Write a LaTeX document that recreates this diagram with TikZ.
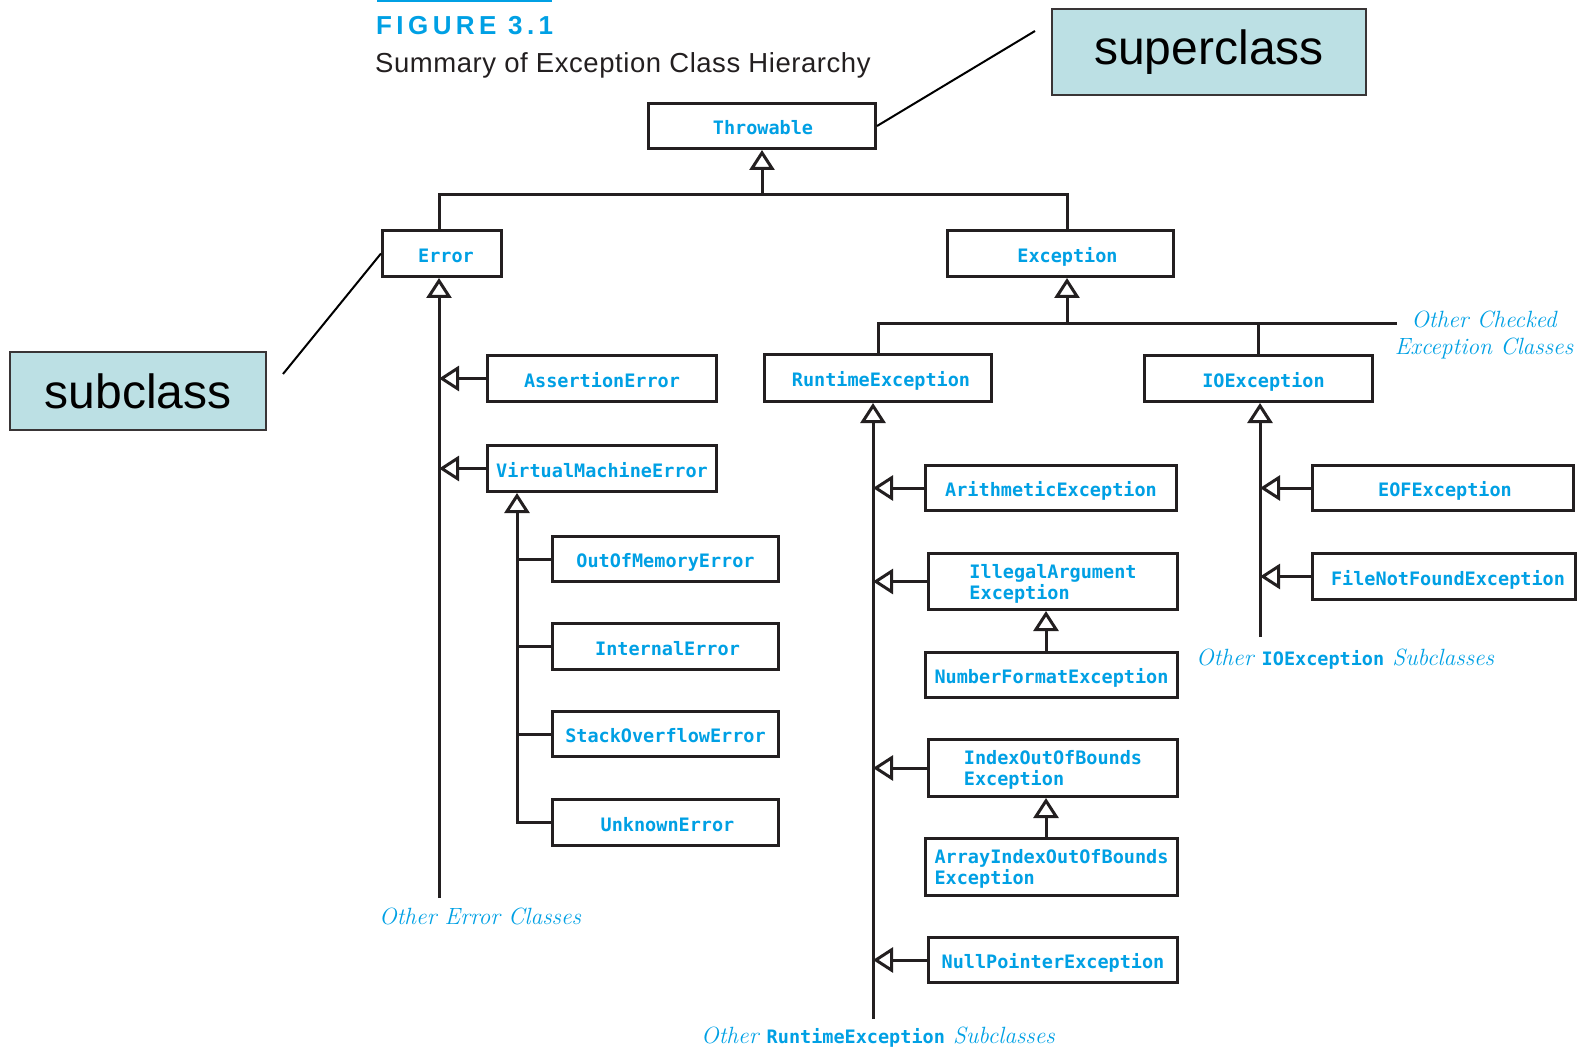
\documentclass[tikz,border=0pt]{standalone}
\usepackage{fontspec}
\newfontfamily\sansfont{Liberation Sans}
\newfontfamily\titlefont{Liberation Sans}[LetterSpace=2]
\newfontfamily\figfont{Liberation Sans}[LetterSpace=17]
\newfontfamily\monofont{DejaVu Sans Mono}
\usetikzlibrary{arrows.meta}

\definecolor{jblue}{RGB}{0,160,228}
\definecolor{ink}{RGB}{35,31,32}
\definecolor{tealbox}{RGB}{188,224,228}

\begin{document}
\begin{tikzpicture}[x=1pt,y=-1pt,
  cls/.style={draw=ink, line width=3pt, fill=white, text=jblue,
    font=\monofont\bfseries\fontsize{18.5}{21}\selectfont,
    inner sep=0pt, minimum height=45pt, align=left,
    text height=17.5pt, text depth=0pt},
  twoline/.style={text height=35pt, text depth=0pt},
  wire/.style={draw=ink, line width=3pt},
  inh/.style={wire, -{Triangle[open,length=20pt,width=25pt]}},
  note/.style={text=jblue, inner sep=0pt, font=\itshape\fontsize{23.5}{27}\selectfont},
  callout/.style={draw=ink!90, line width=2pt, fill=tealbox, text=black,
    font=\sansfont\fontsize{48}{52}\selectfont, inner sep=0pt},
  leader/.style={draw=black, line width=2pt}]

\useasboundingbox (0,0) rectangle (1578,1048);

% heading
\fill[jblue] (377,0) rectangle (552,2.5);
\node[anchor=west, inner sep=0pt, text=jblue, font=\figfont\bfseries\fontsize{26}{30}\selectfont] (fig) at (376,26) {FIGURE 3.1};
\node[anchor=west, inner sep=0pt, text=ink, font=\titlefont\fontsize{27.5}{30}\selectfont] (title) at (375,65) {Summary of Exception Class Hierarchy};

% class boxes
\node[cls, minimum width=227pt] (throwable) at (762,126) {\hspace*{2pt}Throwable};
\node[cls, minimum width=119pt, minimum height=46pt] (error) at (442,253.5) {\hspace*{8pt}Error};
\node[cls, minimum width=226pt, minimum height=46pt] (exception) at (1060.5,253.5) {\hspace*{14pt}Exception};

\node[cls, minimum width=229pt, minimum height=46pt] (assertion) at (602,378.5) {AssertionError};
\node[cls, minimum width=229pt, minimum height=46pt] (vmerror) at (602,468.5) {VirtualMachineError};
\node[cls, minimum width=226pt] (oom) at (665.5,559) {OutOfMemoryError};
\node[cls, minimum width=226pt, minimum height=46pt] (internal) at (665.5,646.5) {\hspace*{4pt}InternalError};
\node[cls, minimum width=226pt] (stackov) at (665.5,734) {StackOverflowError};
\node[cls, minimum width=226pt, minimum height=46pt] (unknown) at (665.5,822.5) {\hspace*{4pt}UnknownError};

\node[cls, minimum width=227pt, minimum height=47pt] (runtime) at (878,378) {\hspace*{6pt}RuntimeException};
\node[cls, minimum width=228pt, minimum height=46pt] (ioexc) at (1258.5,378.5) {\hspace*{10pt}IOException};

\node[cls, minimum width=251pt] (arith) at (1051,488) {ArithmeticException};
\node[cls, twoline, minimum width=249pt, minimum height=56pt] (illegal) at (1053,581.5) {IllegalArgument\\Exception};
\node[cls, minimum width=252pt] (numfmt) at (1051.5,675) {NumberFormatException};
\node[cls, twoline, minimum width=249pt, minimum height=57pt] (indexoob) at (1053,768) {IndexOutOfBounds\\Exception};
\node[cls, twoline, minimum width=252pt, minimum height=57pt] (arrayoob) at (1051.5,867) {ArrayIndexOutOfBounds\\Exception};
\node[cls, minimum width=249pt] (nullptr) at (1053,960) {NullPointerException};

\node[cls, minimum width=261pt] (eof) at (1443,488) {\hspace*{4pt}EOFException};
\node[cls, minimum width=263pt, minimum height=46pt] (fnf) at (1444,576.5) {\hspace*{8pt}FileNotFoundException};

% spine ends and junctions
\coordinate (topbar) at (762,195);
\coordinate (errX) at (439,898);
\coordinate (vmX) at (517,823);
\coordinate (excX) at (1067,323);
\coordinate (chk) at (1397,323);
\coordinate (rtX) at (873,1019);
\coordinate (ioX) at (1260,637);
\coordinate (subX) at (1046,0);

% Throwable level
\draw[inh] (topbar) -- (throwable.south);
\draw[wire] (errX |- error.north) |- (topbar) -| (excX |- exception.north);

% Error branch
\draw[inh] (errX) -- (errX |- error.south);
\draw[inh] (assertion.west) -- (assertion.west -| errX);
\draw[inh] (vmerror.west) -- (vmerror.west -| errX);
\draw[inh, line join=miter] (unknown.west) -| (vmX |- vmerror.south);
\draw[wire] (oom.west) -- (oom.west -| vmX);
\draw[wire] (internal.west) -- (internal.west -| vmX);
\draw[wire] (stackov.west) -- (stackov.west -| vmX);

% Exception branch
\draw[inh] (excX) -- (excX |- exception.south);
\draw[wire, line join=miter] (runtime.north) |- (chk);
\draw[wire] (ioexc.north) -- (ioexc.north |- chk);

% RuntimeException branch
\draw[inh] (rtX) -- (rtX |- runtime.south);
\draw[inh] (arith.west) -- (arith.west -| rtX);
\draw[inh] (illegal.west) -- (illegal.west -| rtX);
\draw[inh] (indexoob.west) -- (indexoob.west -| rtX);
\draw[inh] (nullptr.west) -- (nullptr.west -| rtX);
\draw[inh] (numfmt.north -| subX) -- (illegal.south -| subX);
\draw[inh] (arrayoob.north -| subX) -- (indexoob.south -| subX);

% IOException branch
\draw[inh] (ioX) -- (ioX |- ioexc.south);
\draw[inh] (eof.west) -- (eof.west -| ioX);
\draw[inh] (fnf.west) -- (fnf.west -| ioX);

% open-ended notes
\node[note, anchor=west] (othErr) at (379,916) {Other Error Classes};
\node[note, anchor=west] (othRt) at (701,1037) {Other {\upshape\monofont\bfseries\fontsize{18.5}{21}\selectfont RuntimeException} Subclasses};
\node[note, anchor=west] (othIO) at (1196,659) {Other {\upshape\monofont\bfseries\fontsize{18.5}{21}\selectfont IOException} Subclasses};
\node[note, align=center] (othChk) at (1484,335) {Other Checked\\Exception Classes};

% callouts
\node[callout, minimum width=314pt, minimum height=86pt] (superclass) at (1209,52) {superclass};
\node[callout, minimum width=256pt, minimum height=78pt] (subclass) at (138,391) {subclass};
\coordinate (supLead) at (1035,31);
\coordinate (subLead) at (283,374);
\draw[leader] (supLead) -- (throwable.east);
\draw[leader] (subLead) -- (error.west);
\end{tikzpicture}
\end{document}
